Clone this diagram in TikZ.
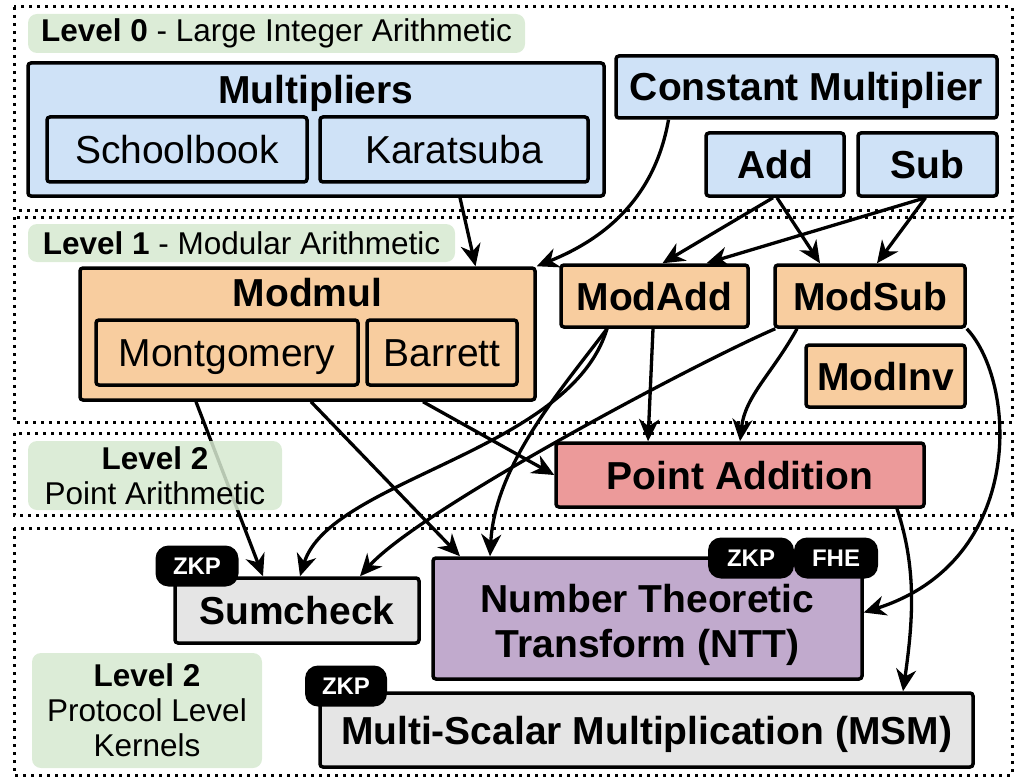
\documentclass[tikz,border=0pt]{standalone}
\usepackage{fontspec}
\setmainfont{Liberation Sans}
\usetikzlibrary{arrows.meta,calc,positioning}

\definecolor{lvlgreen}{HTML}{D6E9D0}
\definecolor{intblue}{HTML}{CFE2F7}
\definecolor{modorange}{HTML}{F8CD9F}
\definecolor{ptred}{HTML}{EC9A9A}
\definecolor{nttpurple}{HTML}{C1AACD}
\definecolor{kergray}{HTML}{E5E5E5}

\begin{document}
\begin{tikzpicture}[
  x=1pt,y=1pt,
  >={Stealth[length=22pt,width=20pt,inset=7pt]},
  lvlframe/.style={line width=3pt,dash pattern=on 3pt off 5pt},
  lvltag/.style={fill=lvlgreen,fill opacity=0.85,text opacity=1,rounded corners=9pt,
    inner sep=0pt,align=center,font=\fontsize{31.5}{35}\selectfont},
  box/.style={draw,line width=3.5pt,rounded corners=3pt,inner sep=0pt,
    font=\fontsize{39}{45}\selectfont,text height=28pt,text depth=0pt},
  title/.style={inner sep=0pt,font=\bfseries\fontsize{39}{45}\selectfont,
    text height=28pt,text depth=0pt},
  badge/.style={fill=black,text=white,rounded corners=13pt,inner sep=0pt,
    minimum height=41pt,font=\bfseries\fontsize{24}{26}\selectfont,
    text height=17pt,text depth=0pt},
  dep/.style={->,line width=3.3pt}
]
  \useasboundingbox (0,0) rectangle (1019,-778);

  % level frames
  \draw[lvlframe] (14,-7) rectangle (1012,-210);
  \draw[lvlframe] (14,-217) rectangle (1012,-422);
  \draw[lvlframe] (14,-433) rectangle (1012,-515);
  \draw[lvlframe] (14,-528) rectangle (1012,-775);

  % level 0
  \node[box,fill=intblue,minimum width=576pt,minimum height=133pt] (mult) at (316,-129.5) {};
  \node[title] (multtitle) at (316,-90) {Multipliers};
  \node[box,fill=intblue,minimum width=260pt,minimum height=65pt] (school) at (177,-149.5) {Schoolbook};
  \node[box,fill=intblue,minimum width=268pt,minimum height=65pt] (karat) at (454,-149.5) {Karatsuba};
  \node[box,fill=intblue,minimum width=381pt,minimum height=62pt,font=\bfseries\fontsize{39}{45}\selectfont] (const) at (806.5,-87) {Constant Multiplier};
  \node[box,fill=intblue,minimum width=138pt,minimum height=63pt,font=\bfseries\fontsize{39}{45}\selectfont] (add) at (775,-164.5) {Add};
  \node[box,fill=intblue,minimum width=139pt,minimum height=63pt,font=\bfseries\fontsize{39}{45}\selectfont] (sub) at (927.5,-164.5) {Sub};

  % level 1
  \node[box,fill=modorange,minimum width=455pt,minimum height=132pt] (modmul) at (307.5,-334) {};
  \node[title] (modmultitle) at (307.5,-292) {Modmul};
  \node[box,fill=modorange,minimum width=262pt,minimum height=65pt] (mont) at (227,-352.5) {Montgomery};
  \node[box,fill=modorange,minimum width=150pt,minimum height=65pt] (barrett) at (442,-352.5) {Barrett};
  \node[box,fill=modorange,minimum width=187pt,minimum height=62pt,font=\bfseries\fontsize{39}{45}\selectfont] (modadd) at (654.5,-296) {ModAdd};
  \node[box,fill=modorange,minimum width=190pt,minimum height=62pt,font=\bfseries\fontsize{39}{45}\selectfont] (modsub) at (870,-296) {ModSub};
  \node[box,fill=modorange,minimum width=159pt,minimum height=62pt,font=\bfseries\fontsize{39}{45}\selectfont] (modinv) at (885.5,-376) {ModInv};

  % level 2
  \node[box,fill=ptred,minimum width=368pt,minimum height=64pt,font=\bfseries\fontsize{39}{45}\selectfont] (padd) at (740,-475) {Point Addition};

  % kernels
  \node[box,fill=kergray,minimum width=244pt,minimum height=65pt,font=\bfseries\fontsize{39}{45}\selectfont] (sumcheck) at (297,-610.5) {Sumcheck};
  \node[box,fill=nttpurple,minimum width=429pt,minimum height=121pt] (ntt) at (647.5,-618.5) {};
  \node[inner sep=0pt,align=center,font=\bfseries\fontsize{39}{45}\selectfont] (ntttext) at (647.5,-625) {Number Theoretic\\Transform (NTT)};
  \node[box,fill=kergray,minimum width=653pt,minimum height=74pt,font=\bfseries\fontsize{39}{45}\selectfont] (msm) at (646.5,-730) {Multi-Scalar Multiplication (MSM)};

  \node[badge,minimum width=83pt] (sczkp) at (197,-566) {ZKP};
  \node[badge,minimum width=86pt] (nttzkp) at (751,-558) {ZKP};
  \node[badge,minimum width=84pt] (nttfhe) at (836,-558) {FHE};
  \node[badge,minimum width=82pt] (msmzkp) at (346,-686) {ZKP};

  % dependencies
  \draw[dep] ([xshift=144pt]mult.south) -- ([xshift=168pt]modmul.north);
  \draw[dep] ([xshift=-138pt]const.south) to[out=-100,in=22] (modmul.north east);
  \draw[dep] ([xshift=-2pt]add.south) -- ([xshift=8pt]modadd.north);
  \draw[dep] ([xshift=2pt]add.south) -- ([xshift=-50pt]modsub.north);
  \draw[dep] ([xshift=-2pt]sub.south) -- ([xshift=52pt]modadd.north);
  \draw[dep] ([xshift=-2pt]sub.south) -- ([xshift=7pt]modsub.north);

  \draw[dep] ([xshift=-111.5pt]modmul.south) -- ([xshift=-34pt]sumcheck.north);
  \draw[dep] ([xshift=3.5pt]modmul.south) -- ([xshift=-187.5pt]ntt.north);
  \draw[dep] ([xshift=115.5pt]modmul.south) -- (padd.west);
  \draw[dep] ([xshift=-1.5pt]modadd.south) -- ([xshift=-92pt]padd.north);
  \draw[dep] ([xshift=-47.5pt]modadd.south) .. controls +(-45,-60) and +(5,92) .. ([xshift=-157.5pt]ntt.north);
  \draw[dep] ([xshift=-47.5pt]modadd.south) .. controls +(-37,-123) and +(30,97) .. ([xshift=3pt]sumcheck.north);
  \draw[dep] ([xshift=2pt]modsub.south west) .. controls +(-77,-33) and +(60,67) .. ([xshift=63pt]sumcheck.north);
  \draw[dep] ([xshift=-73pt]modsub.south) .. controls +(-25,-45) and +(5,45) .. (padd.north);
  \draw[dep] (modsub.south east) .. controls +(50,-53) and +(163,52) .. ([yshift=6pt]ntt.east);
  \draw[dep] ([xshift=157pt]padd.south) .. controls +(20,-60) and +(10,70) .. ([xshift=256.5pt]msm.north);

  % level tags
  \node[lvltag,minimum width=497pt,minimum height=39pt] (lvl0tag) at (276.5,-33.5) {\textbf{Level 0} - Large Integer Arithmetic};
  \node[lvltag,minimum width=427pt,minimum height=38pt] (lvl1tag) at (241.5,-243) {\textbf{Level 1} - Modular Arithmetic};
  \node[lvltag,minimum width=254pt,minimum height=69pt] (lvl2tag) at (155,-475.5) {\textbf{Level 2}\\Point Arithmetic};
  \node[lvltag,minimum width=230pt,minimum height=115pt] (lvl3tag) at (147,-710.5) {\textbf{Level 2}\\Protocol Level\\Kernels};
\end{tikzpicture}
\end{document}
